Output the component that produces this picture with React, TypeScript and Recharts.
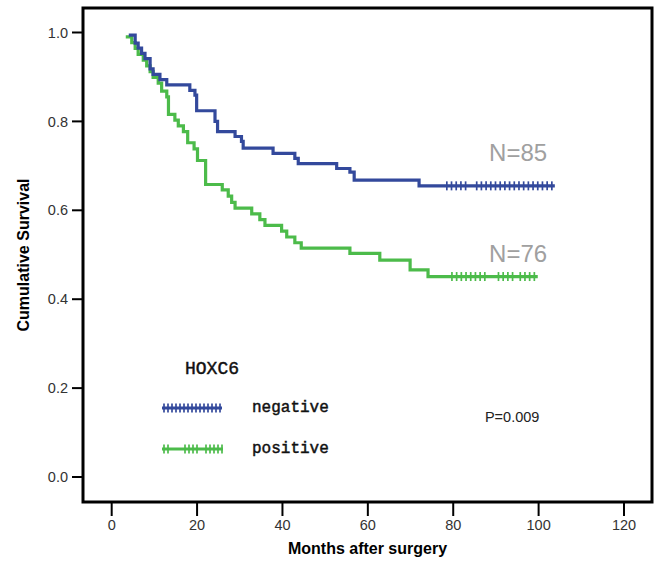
import React from "react";
import {
  ComposedChart,
  Line,
  Scatter,
  XAxis,
  YAxis,
  ReferenceArea,
  ReferenceDot,
  Customized,
} from "recharts";

// Kaplan-Meier step points (months, cumulative survival)
const negativeCurve = [
  { t: 4.0, s: 0.994 },
  { t: 5.5, s: 0.976 },
  { t: 6.2, s: 0.965 },
  { t: 7.0, s: 0.953 },
  { t: 7.8, s: 0.941 },
  { t: 9.0, s: 0.918 },
  { t: 9.7, s: 0.906 },
  { t: 11.3, s: 0.894 },
  { t: 12.9, s: 0.882 },
  { t: 18.3, s: 0.87 },
  { t: 19.5, s: 0.859 },
  { t: 19.9, s: 0.824 },
  { t: 24.2, s: 0.8 },
  { t: 24.8, s: 0.777 },
  { t: 28.9, s: 0.766 },
  { t: 30.4, s: 0.755 },
  { t: 30.8, s: 0.74 },
  { t: 37.8, s: 0.728 },
  { t: 42.9, s: 0.717 },
  { t: 43.7, s: 0.705 },
  { t: 52.7, s: 0.694 },
  { t: 55.8, s: 0.686 },
  { t: 56.8, s: 0.668 },
  { t: 72.0, s: 0.655 },
  { t: 103.8, s: 0.655 },
];

const positiveCurve = [
  { t: 3.3, s: 0.99 },
  { t: 4.7, s: 0.977 },
  { t: 5.5, s: 0.964 },
  { t: 6.2, s: 0.951 },
  { t: 7.4, s: 0.938 },
  { t: 8.2, s: 0.925 },
  { t: 9.0, s: 0.912 },
  { t: 9.7, s: 0.899 },
  { t: 10.9, s: 0.886 },
  { t: 11.7, s: 0.868 },
  { t: 12.9, s: 0.855 },
  { t: 13.3, s: 0.816 },
  { t: 14.8, s: 0.803 },
  { t: 15.6, s: 0.79 },
  { t: 16.8, s: 0.777 },
  { t: 17.8, s: 0.752 },
  { t: 19.3, s: 0.738 },
  { t: 20.1, s: 0.712 },
  { t: 22.0, s: 0.658 },
  { t: 25.9, s: 0.646 },
  { t: 27.3, s: 0.632 },
  { t: 28.1, s: 0.618 },
  { t: 28.9, s: 0.605 },
  { t: 32.8, s: 0.592 },
  { t: 34.7, s: 0.579 },
  { t: 35.9, s: 0.566 },
  { t: 39.8, s: 0.553 },
  { t: 41.0, s: 0.54 },
  { t: 42.9, s: 0.527 },
  { t: 44.4, s: 0.515 },
  { t: 55.8, s: 0.503 },
  { t: 62.8, s: 0.488 },
  { t: 69.9, s: 0.466 },
  { t: 74.1, s: 0.451 },
  { t: 99.8, s: 0.451 },
];

// censored observations
const negativeCensorTimes = [
  78.5, 79.6, 80.7, 81.8, 82.9, 85.5, 86.6, 87.7, 88.8, 89.9, 91.0, 92.1, 93.2,
  94.3, 95.4, 96.5, 97.6, 98.7, 99.8, 100.9, 102.0, 103.1,
];
const negativeCensorLevel = 0.655;
const positiveCensorTimes = [
  79.7, 80.8, 81.9, 83.0, 84.1, 85.2, 86.3, 87.4, 90.6, 91.7, 92.8, 93.9, 95.7,
  96.8, 97.9, 99.0,
];
const positiveCensorLevel = 0.451;

const xTicks = [0, 20, 40, 60, 80, 100, 120];
const yTicks = [0, 0.2, 0.4, 0.6, 0.8, 1.0];

const groupTitle = "HOXC6";
const seriesNames = ["negative", "positive"];
const nLabels = ["N=85", "N=76"];
const pLabel = "P=0.009";

const BLUE = "#33499c";
const GREEN = "#4cbb4a";
const X_DOMAIN: [number, number] = [-6.72, 126.56];
const Y_DOMAIN: [number, number] = [-0.0562, 1.0551];

const negCensor = negativeCensorTimes.map((t) => ({ t, s: negativeCensorLevel }));
const posCensor = positiveCensorTimes.map((t) => ({ t, s: positiveCensorLevel }));

const tickShape = (color: string) => (props: any) => {
  const { cx, cy } = props;
  return (
    <line x1={cx} x2={cx} y1={cy - 4.5} y2={cy + 4.5} stroke={color} strokeWidth={1.7} />
  );
};

const legendBlueTicks = [164, 168, 172, 176, 180, 184, 188, 192, 196, 200, 204, 208, 212, 216, 220];
const legendGreenTicks = [164, 168, 185, 189, 193, 197, 206, 210, 214, 218, 222];

const MONO = "'Liberation Mono', 'DejaVu Sans Mono', monospace";

const LegendBlock = () => (
  <g>
    <text x={185} y={374} fontFamily={MONO} fontSize={18} fill="#111" stroke="#111" strokeWidth={0.45}>
      {groupTitle}
    </text>
    <line x1={162} x2={222} y1={408} y2={408} stroke={BLUE} strokeWidth={3.2} />
    {legendBlueTicks.map((x, i) => (
      <line key={i} x1={x} x2={x} y1={403.5} y2={412.5} stroke={BLUE} strokeWidth={1.7} />
    ))}
    <text x={252} y={411.5} fontFamily={MONO} fontSize={16} fill="#111" stroke="#111" strokeWidth={0.45}>
      {seriesNames[0]}
    </text>
    <line x1={162} x2={223} y1={449} y2={449} stroke={GREEN} strokeWidth={3.2} />
    {legendGreenTicks.map((x, i) => (
      <line key={i} x1={x} x2={x} y1={444.5} y2={453.5} stroke={GREEN} strokeWidth={1.7} />
    ))}
    <text x={252} y={453} fontFamily={MONO} fontSize={16} fill="#111" stroke="#111" strokeWidth={0.45}>
      {seriesNames[1]}
    </text>
  </g>
);

const FONT = "'Liberation Sans', Arial, sans-serif";

export default function App() {
  return (
    <div style={{ position: "absolute", left: 0, top: 0, background: "#fff" }}>
      <ComposedChart
        width={655}
        height={561}
        margin={{ top: 8, right: 3, bottom: 0, left: 0 }}
        style={{ fontFamily: FONT }}
      >
        <XAxis
          type="number"
          dataKey="t"
          domain={X_DOMAIN}
          allowDataOverflow
          ticks={xTicks}
          height={59}
          axisLine={false}
          tickLine={{ stroke: "#000", strokeWidth: 2 }}
          tickSize={14}
          tickMargin={4}
          tick={{ fill: "#333", fontSize: 14.5, fontFamily: FONT }}
          label={{
            value: "Months after surgery",
            position: "insideBottom",
            offset: 7,
            style: { fontWeight: "bold", fontSize: 16, fill: "#000", fontFamily: FONT },
          }}
        />
        <YAxis
          type="number"
          dataKey="s"
          domain={Y_DOMAIN}
          allowDataOverflow
          ticks={yTicks}
          width={83}
          axisLine={false}
          tickLine={{ stroke: "#000", strokeWidth: 2 }}
          tickSize={11}
          tickMargin={4}
          tickFormatter={(v: number) => v.toFixed(1)}
          tick={{ fill: "#333", fontSize: 14.5, fontFamily: FONT }}
          label={{
            value: "Cumulative Survival",
            angle: -90,
            position: "insideLeft",
            offset: 23,
            style: {
              textAnchor: "middle",
              fontWeight: "bold",
              fontSize: 16,
              fill: "#000",
              fontFamily: FONT,
            },
          }}
        />
        <Line
          data={positiveCurve}
          dataKey="s"
          type="stepAfter"
          stroke={GREEN}
          strokeWidth={3.2}
          dot={false}
          activeDot={false}
          isAnimationActive={false}
        />
        <Line
          data={negativeCurve}
          dataKey="s"
          type="stepAfter"
          stroke={BLUE}
          strokeWidth={3.2}
          dot={false}
          activeDot={false}
          isAnimationActive={false}
        />
        <Scatter data={posCensor} dataKey="s" shape={tickShape(GREEN)} isAnimationActive={false} />
        <Scatter data={negCensor} dataKey="s" shape={tickShape(BLUE)} isAnimationActive={false} />
        <ReferenceDot
          x={95.2}
          y={0.729}
          r={0}
          fill="none"
          stroke="none"
          label={{ value: nLabels[0], position: "center", fontSize: 24, fill: "#a0a0a0", fontFamily: FONT }}
        />
        <ReferenceDot
          x={95.2}
          y={0.503}
          r={0}
          fill="none"
          stroke="none"
          label={{ value: nLabels[1], position: "center", fontSize: 24, fill: "#a0a0a0", fontFamily: FONT }}
        />
        <ReferenceDot
          x={93.8}
          y={0.136}
          r={0}
          fill="none"
          stroke="none"
          label={{ value: pLabel, position: "center", fontSize: 14.5, fill: "#222", fontFamily: FONT }}
        />
        <ReferenceArea
          x1={X_DOMAIN[0]}
          x2={X_DOMAIN[1]}
          y1={Y_DOMAIN[0]}
          y2={Y_DOMAIN[1]}
          fill="none"
          fillOpacity={0}
          stroke="#000"
          strokeWidth={3}
          ifOverflow="visible"
        />
        <Customized component={<LegendBlock />} />
      </ComposedChart>
    </div>
  );
}
